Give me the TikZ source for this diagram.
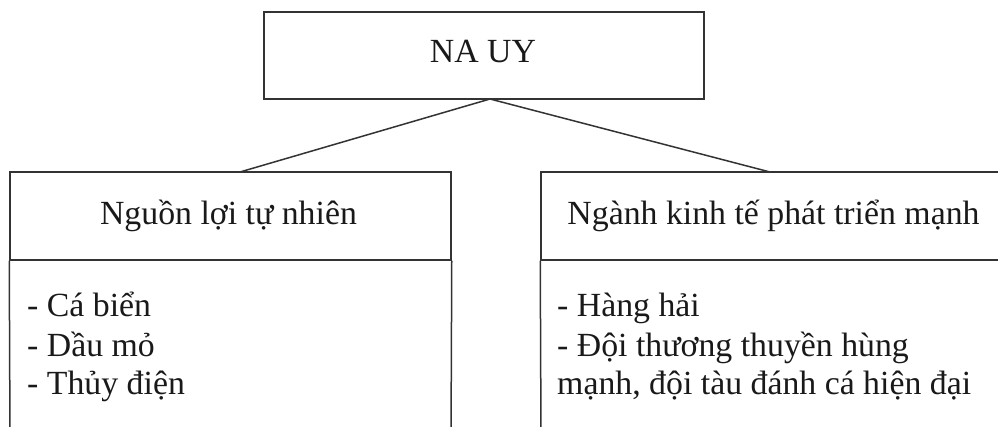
\documentclass[tikz,border=0pt]{standalone}
\usepackage{fontspec}
\setmainfont{Liberation Serif}
\begin{document}
\begin{tikzpicture}[x=1pt,y=-1pt,
  frame/.style={draw=black!80, line width=1.5pt, inner sep=0pt},
  conn/.style={draw=black!80, line width=1.5pt},
  txt/.style={font=\fontsize{33.8}{38}\selectfont, inner sep=0pt, text=black!90},
  item/.style={txt, anchor=base west}]
\useasboundingbox (0,0) rectangle (998,427);
% top box
\node[frame, minimum width=440pt, minimum height=87pt] (top) at (484,55.5) {};
\node[txt, anchor=base] (toptxt) at (483,63) {NA UY};
% left column
\node[frame, minimum width=441pt, minimum height=88pt] (lhead) at (230.5,216) {};
\node[txt, anchor=base] (lheadtxt) at (228.5,225) {Nguồn lợi tự nhiên};
\coordinate (lbl) at (10,440);
\coordinate (lbr) at (451,440);
\draw[conn] (lhead.south west) -- (lbl);
\draw[conn] (lhead.south east) -- (lbr);
\node[item] (l1) at (27,317) {- Cá biển};
\node[item] (l2) at (27,356) {- Dầu mỏ};
\node[item] (l3) at (27,394) {- Thủy điện};
% right column
\node[frame, minimum width=470pt, minimum height=88pt] (rhead) at (776,216) {};
\node[txt, anchor=base] (rheadtxt) at (773.5,225) {Ngành kinh tế phát triển mạnh};
\coordinate (rbl) at (541,440);
\draw[conn] (rhead.south west) -- (rbl);
\node[item] (r1) at (557,317) {- Hàng hải};
\node[item] (r2) at (557,356) {- Đội thương thuyền hùng};
\node[item] (r3) at (557,394) {mạnh, đội tàu đánh cá hiện đại};
% connectors
\coordinate (j) at (490,99);
\coordinate (lj) at (240,172);
\coordinate (rj) at (770,172);
\draw[conn] (j) -- (lj);
\draw[conn] (j) -- (rj);
\end{tikzpicture}
\end{document}
